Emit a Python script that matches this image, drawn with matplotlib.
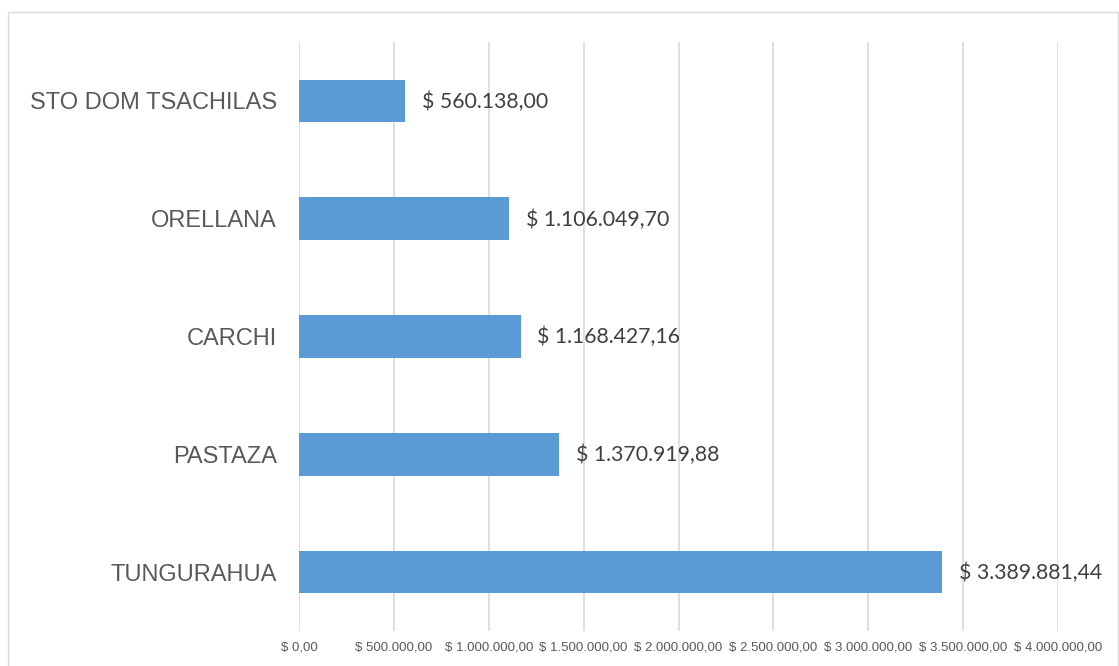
import matplotlib
matplotlib.use("Agg")
import matplotlib.pyplot as plt
from matplotlib.patches import Rectangle
from matplotlib.ticker import FuncFormatter

categories = ["STO DOM TSACHILAS", "ORELLANA", "CARCHI", "PASTAZA", "TUNGURAHUA"]
values = [560138.00, 1106049.70, 1168427.16, 1370919.88, 3389881.44]
x_ticks = [0, 500000, 1000000, 1500000, 2000000, 2500000, 3000000, 3500000, 4000000]


def fmt_money(v):
    s = f"{v:,.2f}"
    s = s.replace(",", "X").replace(".", ",").replace("X", ".")
    return "$ " + s


W, H = 1119, 666
fig = plt.figure(figsize=(W / 100, H / 100), dpi=100)
fig.patch.set_facecolor("white")

# outer chart frame
fig.patches.append(Rectangle((8 / W, -10 / H), (1118 - 8) / W, (666 - 12 + 10) / H,
                             transform=fig.transFigure, fill=False,
                             edgecolor="#d9d9d9", linewidth=1.0))

left, right, top, bottom = 299, 1058, 42, 631
ax = fig.add_axes([left / W, (H - bottom) / H, (right - left) / W, (bottom - top) / H])

ypos = list(range(len(categories)))
ax.barh(ypos, values, height=0.36, color="#5B9BD5", zorder=3)
ax.set_ylim(len(categories) - 0.5, -0.5)
ax.set_xlim(0, 4000000)

ax.set_yticks(ypos)
ax.set_yticklabels(categories, fontsize=17, color="#595959", family="Liberation Sans")
ax.set_xticks(x_ticks)
ax.xaxis.set_major_formatter(FuncFormatter(lambda v, p: fmt_money(v)))
for lab in ax.get_xticklabels():
    lab.set_fontsize(9.5)
    lab.set_color("#595959")
    lab.set_family("Liberation Sans")
ax.tick_params(axis="y", length=0, pad=16)
ax.tick_params(axis="x", length=0, pad=7.5)

ax.grid(axis="x", color="#d9d9d9", linewidth=1.2, zorder=0)
for s in ax.spines.values():
    s.set_visible(False)

for y, v in zip(ypos, values):
    ax.annotate(fmt_money(v), xy=(v, y), xytext=(12, -0.5), textcoords="offset points",
                ha="left", va="center", fontsize=15.3, color="#404040",
                family="Lato", clip_on=False, annotation_clip=False)

fig.savefig("out.png", dpi=100)
